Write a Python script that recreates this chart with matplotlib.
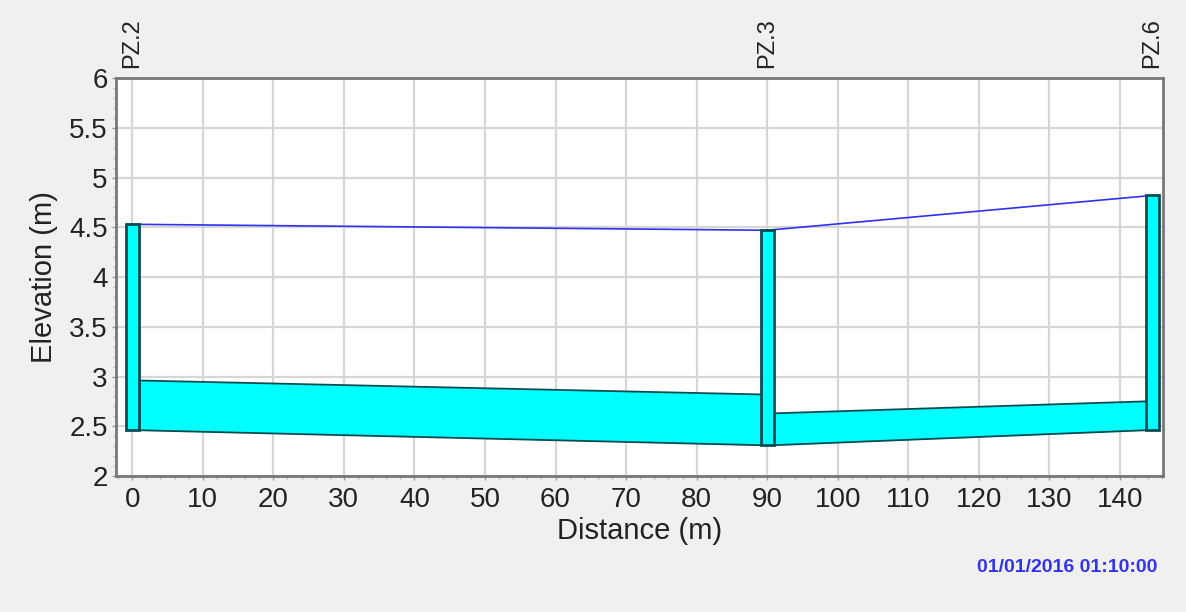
import matplotlib
matplotlib.use("Agg")
import matplotlib.pyplot as plt
import numpy as np
from matplotlib.ticker import MultipleLocator

# ---- data ----
well_names = ["PZ.2", "PZ.3", "PZ.6"]
well_x = [0.0, 90.0, 144.6]
well_top = [4.53, 4.47, 4.82]
well_bottom = [2.46, 2.31, 2.46]
water_level = [4.53, 4.47, 4.82]

# layer band segments between wells (left side top, right side top)
seg_x_start = [1.0, 91.0]
seg_x_end = [89.0, 143.6]
seg_top_start = [2.96, 2.63]
seg_top_end = [2.82, 2.75]
seg_bot_start = [2.46, 2.31]
seg_bot_end = [2.31, 2.46]

x_ticks = list(range(0, 150, 10))
y_ticks = [2, 2.5, 3, 3.5, 4, 4.5, 5, 5.5, 6]
y_tick_labels = ["2", "2.5", "3", "3.5", "4", "4.5", "5", "5.5", "6"]
date_text = "01/01/2016 01:10:00"

plt.rcParams['font.family'] = ['Liberation Sans', 'DejaVu Sans']

fig = plt.figure(figsize=(11.86, 6.12), dpi=100, facecolor="#f0f0f0")
ax = fig.add_axes([0.0978, 0.2222, 0.9806 - 0.0978, 0.8725 - 0.2222])
ax.set_facecolor("white")

cyan = "#00ffff"
edge = "#0b4b52"

# band segments
for xs, xe, ts, te, bs, be in zip(seg_x_start, seg_x_end, seg_top_start, seg_top_end, seg_bot_start, seg_bot_end):
    ax.fill_between([xs, xe], [bs, be], [ts, te], color=cyan, lw=0, zorder=2)
    ax.plot([xs, xe], [ts, te], color=edge, lw=1.3, zorder=3)
    ax.plot([xs, xe], [bs, be], color=edge, lw=1.3, zorder=3)

# water level line
ax.plot(well_x, water_level, color="#3030ee", lw=1.2, zorder=4)

# wells
heights = [t - b for t, b in zip(well_top, well_bottom)]
ax.bar(well_x, heights, bottom=well_bottom, width=1.8, color=cyan,
       edgecolor=edge, linewidth=2, zorder=5)

ax.set_xlim(-2.3, 146.1)
ax.set_ylim(2, 6)
ax.set_xticks(x_ticks)
ax.set_yticks(y_ticks)
ax.set_yticklabels(y_tick_labels)
ax.xaxis.set_minor_locator(MultipleLocator(2))
ax.yaxis.set_minor_locator(MultipleLocator(0.1))
ax.grid(True, which="major", color="#d6d6d6", lw=1.6, zorder=0)
ax.set_axisbelow(True)

ax.tick_params(axis="both", which="major", length=3, width=1, color="#999999",
               labelsize=20, labelcolor="#222222", pad=3)
ax.tick_params(axis="x", which="major", pad=5)
ax.tick_params(axis="both", which="minor", length=2, width=1, color="#bbbbbb")

for s in ax.spines.values():
    s.set_color("#777777")
    s.set_linewidth(2)

ax.set_xlabel("Distance (m)", fontsize=21, color="#222222", labelpad=3)
ax.set_ylabel("Elevation (m)", fontsize=21, color="#222222", labelpad=8)

for name, x in zip(well_names, well_x):
    ax.annotate(name, xy=(x, 6), xytext=(0, 7), textcoords="offset points",
                rotation=90, ha="center", va="bottom",
                fontsize=17, color="#222222", annotation_clip=False)

fig.text(0.9755, 0.0735, date_text, ha="right", va="center", fontsize=14,
         fontweight="bold", color="#3333ee")

fig.savefig("out.png", dpi=100, facecolor=fig.get_facecolor())
